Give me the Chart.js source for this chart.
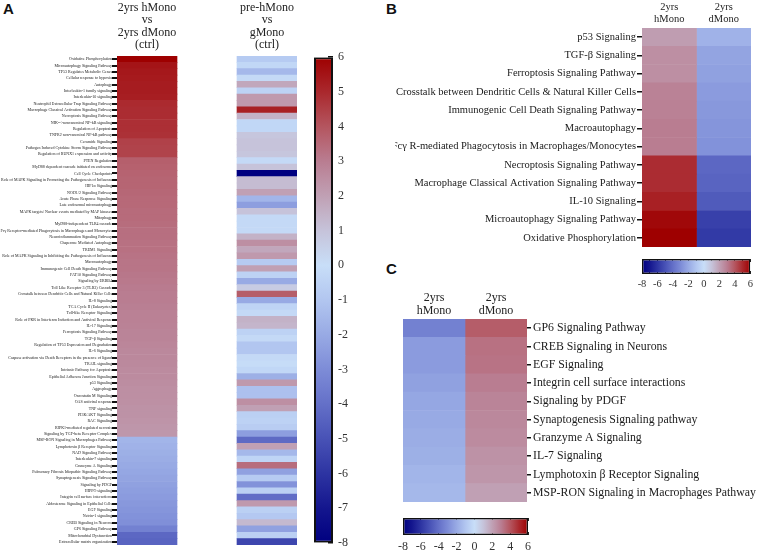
<!DOCTYPE html>
<html>
<head>
<meta charset="utf-8">
<script src="https://cdn.jsdelivr.net/npm/chart.js@4.4.1/dist/chart.umd.min.js"></script>
<style>
  body { margin: 0; background: #fff; }
  #wrap { position: relative; width: 760px; height: 554px; overflow: hidden; background: #fff; }
  canvas { position: absolute; }
  .tag { position: absolute; font: bold 15px 'Liberation Sans', Arial, sans-serif; color: #111; }
</style>
</head>
<body>
<div id="wrap">
  <div class="tag" style="left:3px;top:0px">A</div>
  <div class="tag" style="left:386px;top:0px">B</div>
  <div class="tag" style="left:386px;top:260px">C</div>
  <canvas id="heatA" width="305" height="552" style="left:0;top:0"></canvas>
  <canvas id="barA" width="60" height="520" style="left:305px;top:40px"></canvas>
  <canvas id="heatB" width="365" height="255" style="left:395px;top:0"></canvas>
  <canvas id="barB" width="130" height="45" style="left:630px;top:250px"></canvas>
  <canvas id="heatC" width="365" height="226" style="left:395px;top:285px"></canvas>
  <canvas id="barC" width="150" height="44" style="left:390px;top:510px"></canvas>
</div>
<script>
// ---- panel A: pathways, two comparisons ----
const panelAPathways = [
  'Oxidative Phosphorylation', 'Microautophagy Signaling Pathway', 'TP53 Regulates Metabolic Genes',
  'Cellular response to hypoxia', 'Autophagy', 'Interleukin-1 family signaling', 'Interleukin-10 signaling',
  'Neutrophil Extracellular Trap Signaling Pathway', 'Macrophage Classical Activation Signaling Pathway',
  'Necroptosis Signaling Pathway', 'NIK-->noncanonical NF-kB signaling', 'Regulation of Apoptosis',
  'TNFR2 non-canonical NF-kB pathway', 'Ceramide Signaling', 'Pathogen Induced Cytokine Storm Signaling Pathway',
  'Regulation of RUNX1 expression and activity', 'PTEN Regulation', 'MyD88 dependent cascade initiated on endosome',
  'Cell Cycle Checkpoints', 'Role of MAPK Signaling in Promoting the Pathogenesis of Influenza', 'HIF1α Signaling',
  'NOD1/2 Signaling Pathway', 'Acute Phase Response Signaling', 'Late endosomal microautophagy',
  'MAPK targets/ Nuclear events mediated by MAP kinases', 'Mitophagy', 'MyD88-independent TLR4 cascade',
  'Fcγ Receptor-mediated Phagocytosis in Macrophages and Monocytes', 'Neuroinflammation Signaling Pathway',
  'Chaperone Mediated Autophagy', 'TREM1 Signaling', 'Role of MAPK Signaling in Inhibiting the Pathogenesis of Influenza',
  'Macroautophagy', 'Immunogenic Cell Death Signaling Pathway', 'FAT10 Signaling Pathway', 'Signaling by ERBB4',
  'Toll Like Receptor 3 (TLR3) Cascade', 'Crosstalk between Dendritic Cells and Natural Killer Cells', 'IL-8 Signaling',
  'TCA Cycle II (Eukaryotes)', 'Toll-like Receptor Signaling', 'Role of PKR in Interferon Induction and Antiviral Response',
  'IL-17 Signaling', 'Ferroptosis Signaling Pathway', 'TGF-β Signaling', 'Regulation of TP53 Expression and Degradation',
  'IL-6 Signaling', 'Caspase activation via Death Receptors in the presence of ligand', 'TRAIL signaling',
  'Intrinsic Pathway for Apoptosis', 'Epithelial Adherens Junction Signaling', 'p53 Signaling', 'Aggrephagy',
  'Oncostatin M Signaling', 'OAS antiviral response', 'TNF signaling', 'PI3K/AKT Signaling', 'RAC Signaling',
  'RIPK1-mediated regulated necrosis', 'Signaling by TGF-beta Receptor Complex', 'MSP-RON Signaling in Macrophages Pathway',
  'Lymphotoxin β Receptor Signaling', 'NAD Signaling Pathway', 'Interleukin-7 signaling', 'Granzyme A Signaling',
  'Pulmonary Fibrosis Idiopathic Signaling Pathway', 'Synaptogenesis Signaling Pathway', 'Signaling by PDGF',
  'HIPPO signaling', 'Integrin cell surface interactions', 'Aldosterone Signaling in Epithelial Cells', 'EGF Signaling',
  'Netrin-1 signaling', 'CREB Signaling in Neurons', 'GP6 Signaling Pathway', 'Mitochondrial Dysfunction',
  'Extracellular matrix organization'
];
const panelAHeaders = [['2yrs hMono', 'vs', '2yrs dMono', '(ctrl)'], ['pre-hMono', 'vs', 'gMono', '(ctrl)']];
const panelA2yrs = [
  6.0, 5.5, 5.4, 5.35, 5.3, 5.3, 5.25, 4.95, 4.9, 4.9,
  4.85, 4.85, 4.8, 4.45, 4.4, 4.4, 3.75, 3.7, 3.65, 3.6,
  3.6, 3.55, 3.5, 3.5, 3.45, 3.45, 3.4, 3.35, 3.35, 3.3,
  3.3, 3.25, 3.2, 3.2, 3.15, 3.1, 3.05, 3.0, 3.0, 2.95,
  2.9, 2.9, 2.85, 2.8, 2.8, 2.75, 2.7, 2.7, 2.65, 2.6,
  2.6, 2.55, 2.5, 2.5, 2.45, 2.4, 2.4, 2.35, 2.3, 2.25,
  -1.6, -1.7, -1.8, -1.9, -2.0, -2.1, -2.2, -2.3, -2.4, -2.5,
  -2.6, -2.7, -2.8, -2.9, -3.4, -4.3, -4.4
];
const panelAPre = [
  -0.8, -0.3, -1.5, -0.2, 1.8, -0.5, 2.2, 2.2, 5.2, 1.5,
  -0.3, -0.3, 0.9, 1.0, 1.0, 0.9, -0.2, 1.0, -8.0, 1.2,
  1.2, 2.0, -1.6, -2.4, 1.0, -0.2, -0.2, -0.2, 1.5, 2.5,
  1.8, 2.2, -0.8, 2.0, -0.5, -2.0, 0.7, 3.8, -2.0, -0.4,
  -0.2, 1.5, 1.4, -0.5, -0.2, -1.0, -1.0, -0.2, -0.1, -0.3,
  -1.8, 2.2, -1.2, -1.2, 2.5, 2.0, -0.6, -0.5, -0.7, -2.4,
  -4.2, 2.0, -1.5, -0.4, 3.4, -2.3, -0.8, -2.8, -0.6, -4.1,
  2.2, -0.6, -0.9, 1.3, -2.3, -0.6, -5.4
];

// ---- panel B ----
const panelBPathways = [
  'p53 Signaling', 'TGF-β Signaling', 'Ferroptosis Signaling Pathway',
  'Crosstalk between Dendritic Cells & Natural Killer Cells', 'Immunogenic Cell Death Signaling Pathway',
  'Macroautophagy', 'Fcγ R-mediated Phagocytosis in Macrophages/Monocytes', 'Necroptosis Signaling Pathway',
  'Macrophage Classical Activation Signaling Pathway', 'IL-10 Signaling', 'Microautophagy Signaling Pathway',
  'Oxidative Phosphorylation'
];
const panelBHeaders = [['2yrs', 'hMono'], ['2yrs', 'dMono']];
const panelBHMono = [2.1, 2.5, 2.5, 2.85, 2.9, 3.0, 3.0, 4.9, 4.9, 5.2, 5.8, 6.0];
const panelBDMono = [-1.7, -2.2, -2.3, -2.5, -2.6, -2.7, -2.8, -4.3, -4.4, -4.7, -5.6, -5.8];

// ---- panel C ----
const panelCPathways = [
  'GP6 Signaling Pathway', 'CREB Signaling in Neurons', 'EGF Signaling', 'Integrin cell surface interactions',
  'Signaling by PDGF', 'Synaptogenesis Signaling pathway', 'Granzyme A Signaling', 'IL-7 Signaling',
  'Lymphotoxin β Receptor Signaling', 'MSP-RON Signaling in Macrophages Pathway'
];
const panelCHeaders = [['2yrs', 'hMono'], ['2yrs', 'dMono']];
const panelCHMono = [-3.4, -2.5, -2.5, -2.3, -2.1, -2.0, -1.9, -1.8, -1.6, -1.5];
const panelCDMono = [3.8, 3.3, 3.25, 3.0, 2.8, 2.7, 2.6, 2.4, 2.3, 2.0];

// colour scale range
const scaleMin = -8;
const scaleMax = 6;

// blue - light - red colour map
const cmap = [
  [-8, [0, 0, 128]], [-7, [20, 22, 142]], [-6, [45, 52, 162]], [-5, [72, 82, 182]],
  [-4, [100, 112, 200]], [-3, [125, 140, 215]], [-2, [152, 170, 228]], [-1, [178, 198, 240]],
  [0, [200, 222, 248]], [1, [198, 195, 218]], [2, [192, 160, 180]], [3, [185, 125, 145]],
  [4, [180, 85, 95]], [5, [170, 40, 45]], [6, [158, 0, 0]]
];

function heatColor(v) {
  v = Math.max(scaleMin, Math.min(scaleMax, v));
  for (let i = 0; i < cmap.length - 1; i++) {
    const [v0, c0] = cmap[i];
    const [v1, c1] = cmap[i + 1];
    if (v >= v0 && v <= v1) {
      const t = (v - v0) / (v1 - v0);
      const c = c0.map((x, k) => Math.round(x + (c1[k] - x) * t));
      return `rgb(${c[0]},${c[1]},${c[2]})`;
    }
  }
  return 'rgb(158,0,0)';
}

Chart.defaults.font.family = "'Liberation Serif', 'Times New Roman', serif";
Chart.defaults.color = '#222';
Chart.defaults.animation = false;
Chart.defaults.plugins.legend.display = false;
Chart.defaults.plugins.tooltip.enabled = false;

function heatmap(id, cfg) {
  const datasets = cfg.columns.map((vals, i) => ({
    data: vals.map(() => [cfg.colX[i], cfg.colX[i] + 1]),
    backgroundColor: vals.map(heatColor),
    borderWidth: 0,
    grouped: false,
    barPercentage: 1,
    categoryPercentage: 1
  }));
  return new Chart(document.getElementById(id), {
    type: 'bar',
    data: { labels: cfg.rows, datasets },
    options: {
      responsive: false,
      indexAxis: 'y',
      layout: { padding: cfg.padding },
      scales: {
        x: {
          type: 'linear', position: 'top', min: 0, max: cfg.xMax,
          afterBuildTicks: axis => { axis.ticks = cfg.colX.map(x => ({ value: x + 0.5 })); },
          afterFit: axis => { axis.height = cfg.headHeight; },
          grid: { display: false, drawTicks: false },
          border: { display: false },
          ticks: {
            autoSkip: false, maxRotation: 0, padding: cfg.headPad, color: '#222',
            font: { size: cfg.headSize, lineHeight: cfg.headLine },
            callback: (v, i) => cfg.headers[i]
          }
        },
        y: {
          type: 'category', position: cfg.side, offset: true,
          afterFit: axis => { axis.width = cfg.labelWidth; },
          grid: { drawOnChartArea: false, offset: false, tickLength: cfg.tickLen, tickColor: '#111', lineWidth: cfg.tickW },
          border: { display: false },
          ticks: { autoSkip: false, padding: cfg.labelPad, color: '#1a1a1a', font: { size: cfg.labelSize } }
        }
      }
    }
  });
}

function gradientFill(vertical) {
  return ctx => {
    const a = ctx.chart.chartArea;
    if (!a) return 'transparent';
    const g = vertical
      ? ctx.chart.ctx.createLinearGradient(0, a.bottom, 0, a.top)
      : ctx.chart.ctx.createLinearGradient(a.left, 0, a.right, 0);
    for (let v = scaleMin; v <= scaleMax; v += 0.5) {
      g.addColorStop((v - scaleMin) / (scaleMax - scaleMin), heatColor(v));
    }
    return g;
  };
}

function colorbarDataset(vertical, bw) {
  return {
    data: [[scaleMin, scaleMax]],
    backgroundColor: gradientFill(vertical),
    borderColor: '#111',
    borderWidth: bw,
    borderSkipped: false,
    inflateAmount: 0,
    barPercentage: 1,
    categoryPercentage: 1
  };
}

// panel A heatmap
heatmap('heatA', {
  rows: panelAPathways, columns: [panelA2yrs, panelAPre], colX: [0, 2], xMax: 3,
  headers: panelAHeaders, headSize: 12, headLine: 1.025, headPad: 5, headHeight: 56,
  side: 'left', labelWidth: 117, labelSize: 4, labelPad: 0, tickLen: 5, tickW: 2,
  padding: { right: 8, bottom: 7 }
});

// panel A colour bar (vertical)
new Chart(document.getElementById('barA'), {
  type: 'bar',
  data: { labels: [''], datasets: [colorbarDataset(true, 2)] },
  options: {
    responsive: false,
    layout: { padding: { left: 9, top: 16, bottom: 15 } },
    scales: {
      x: { display: false },
      y: {
        type: 'linear', position: 'right', min: scaleMin, max: scaleMax, z: 1,
        afterFit: axis => { axis.width = 32; },
        ticks: { stepSize: 1, padding: 10, color: '#333', font: { size: 12 } },
        grid: { drawOnChartArea: false, tickLength: -5, tickColor: '#111', lineWidth: 1.5 },
        border: { display: false }
      }
    }
  }
});

// panel B heatmap
heatmap('heatB', {
  rows: panelBPathways, columns: [panelBHMono, panelBDMono], colX: [0, 1], xMax: 2,
  headers: panelBHeaders, headSize: 10.5, headLine: 1.143, headPad: 3, headHeight: 28,
  side: 'left', labelWidth: 247, labelSize: 10.5, labelPad: 1, tickLen: 5, tickW: 1.5,
  padding: { right: 9, bottom: 8 }
});

// panel C heatmap
heatmap('heatC', {
  rows: panelCPathways, columns: [panelCHMono, panelCDMono], colX: [0, 1], xMax: 2,
  headers: panelCHeaders, headSize: 12, headLine: 1.125, headPad: 1, headHeight: 34,
  side: 'right', labelWidth: 233, labelSize: 11.8, labelPad: 2, tickLen: 4, tickW: 1.5,
  padding: { left: 8, bottom: 8 }
});

// horizontal colour bars for B and C
function hColorbar(id, cfg) {
  const edgeGrid = { drawOnChartArea: false, tickLength: -3, tickColor: '#222', lineWidth: 1 };
  return new Chart(document.getElementById(id), {
    type: 'bar',
    data: { labels: [''], datasets: [colorbarDataset(false, 1.5)] },
    options: {
      responsive: false,
      indexAxis: 'y',
      layout: { padding: cfg.padding },
      scales: {
        y: { display: false },
        x: {
          type: 'linear', position: 'bottom', min: scaleMin, max: scaleMax, z: 1,
          afterFit: axis => { axis.height = cfg.axisHeight; },
          ticks: {
            stepSize: cfg.step, autoSkip: false, maxRotation: 0, padding: cfg.labelPad,
            color: '#333', font: { size: cfg.fontSize },
            callback: v => (v % 2 === 0 ? v : '')
          },
          grid: edgeGrid,
          border: { display: false }
        },
        xTop: {
          type: 'linear', position: 'top', min: scaleMin, max: scaleMax, z: 1,
          afterFit: axis => { axis.height = 0; },
          ticks: { stepSize: cfg.step, display: false },
          grid: edgeGrid,
          border: { display: false }
        }
      }
    }
  });
}

hColorbar('barB', { padding: { left: 12, right: 9, top: 9 }, axisHeight: 21, step: 1, labelPad: 7, fontSize: 10.5 });
hColorbar('barC', { padding: { left: 13, right: 12, top: 8 }, axisHeight: 19, step: 2, labelPad: 8, fontSize: 12 });
</script>
</body>
</html>
